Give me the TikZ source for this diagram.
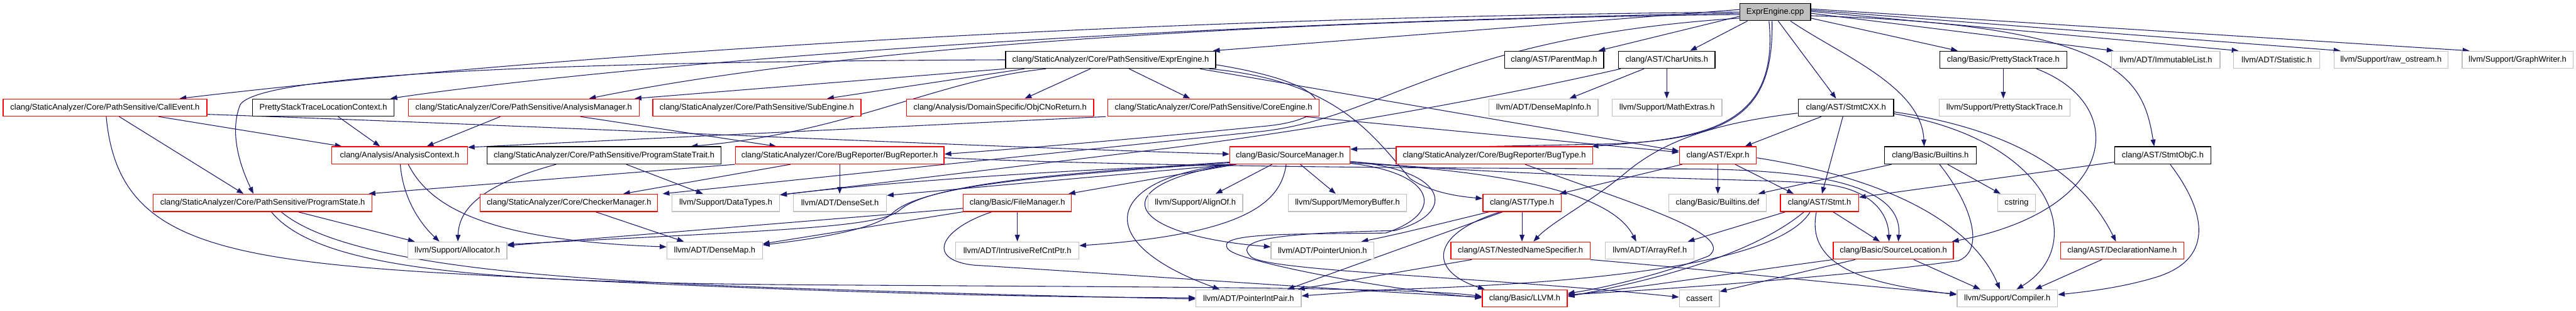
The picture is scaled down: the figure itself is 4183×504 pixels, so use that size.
\documentclass[tikz,border=0pt]{standalone}
\usepackage{fontspec}
\setmainfont{Liberation Sans}
\usetikzlibrary{arrows.meta,backgrounds}
\definecolor{edgec}{HTML}{191970}
\definecolor{boxred}{HTML}{FF0000}
\definecolor{boxgray}{HTML}{BFBFBF}
\definecolor{rootgray}{HTML}{BFBFBF}
\newcommand\nodefont{\fontsize{13.2}{15}\selectfont}
\tikzset{
 conn/.style={draw=edgec, line width=1.1pt, -{Triangle[length=11pt,width=8pt]}},
 nbox/.style={rectangle, line width=1.3pt, minimum height=28pt, inner sep=0pt, font=\nodefont, text=black, fill=white},
 blk/.style={nbox, draw=black},
 redb/.style={nbox, draw=boxred},
 gry/.style={nbox, draw=boxgray},
 rootbox/.style={nbox, draw=black, fill=rootgray},
}
\begin{document}
\begin{tikzpicture}[x=1pt,y=-1pt]
\useasboundingbox (0,0) rectangle (4183,504);
% row 0
\node[rootbox,minimum width=115pt] (cpp) at (2882.5,19.5) {ExprEngine.cpp};
% row 1
\node[blk,minimum width=341pt] (eeh) at (1803.5,97) {clang/StaticAnalyzer/Core/PathSensitive/ExprEngine.h};
\node[blk,minimum width=161pt] (parentmap) at (2523.5,97) {clang/AST/ParentMap.h};
\node[blk,minimum width=157pt] (charunits) at (2706.5,97) {clang/AST/CharUnits.h};
\node[blk,minimum width=206pt] (cpst) at (3253,97) {clang/Basic/PrettyStackTrace.h};
\node[gry,minimum width=176pt] (immlist) at (3517,97) {llvm/ADT/ImmutableList.h};
\node[gry,minimum width=140pt] (statistic) at (3697,97) {llvm/ADT/Statistic.h};
\node[gry,minimum width=185pt] (rawos) at (3882.5,97) {llvm/Support/raw\_ostream.h};
\node[gry,minimum width=180pt] (graphw) at (4088,97) {llvm/Support/GraphWriter.h};
% row 2
\node[redb,minimum width=331pt] (callevent) at (170.5,174.5) {clang/StaticAnalyzer/Core/PathSensitive/CallEvent.h};
\node[blk,minimum width=230pt] (pstlc) at (525,174.5) {PrettyStackTraceLocationContext.h};
\node[redb,minimum width=375pt] (anamgr) at (850.5,174.5) {clang/StaticAnalyzer/Core/PathSensitive/AnalysisManager.h};
\node[redb,minimum width=338pt] (subeng) at (1229,174.5) {clang/StaticAnalyzer/Core/PathSensitive/SubEngine.h};
\node[redb,minimum width=304pt] (objcnr) at (1624,174.5) {clang/Analysis/DomainSpecific/ObjCNoReturn.h};
\node[redb,minimum width=343pt] (coreeng) at (1970.5,174.5) {clang/StaticAnalyzer/Core/PathSensitive/CoreEngine.h};
\node[gry,minimum width=177pt] (dmapinfo) at (2506.5,174.5) {llvm/ADT/DenseMapInfo.h};
\node[gry,minimum width=178pt] (mathext) at (2707,174.5) {llvm/Support/MathExtras.h};
\node[blk,minimum width=155pt] (stmtcxx) at (2997.5,174.5) {clang/AST/StmtCXX.h};
\node[gry,minimum width=212pt] (lpst) at (3255,174.5) {llvm/Support/PrettyStackTrace.h};
% row 3
\node[redb,minimum width=220pt] (actx) at (649,252) {clang/Analysis/AnalysisContext.h};
\node[blk,minimum width=380pt] (pstrait) at (981,252) {clang/StaticAnalyzer/Core/PathSensitive/ProgramStateTrait.h};
\node[redb,minimum width=339pt] (bugrep) at (1363.5,252) {clang/StaticAnalyzer/Core/BugReporter/BugReporter.h};
\node[redb,minimum width=195pt] (srcmgr) at (2094.5,252) {clang/Basic/SourceManager.h};
\node[redb,minimum width=319pt] (bugtype) at (2426.5,252) {clang/StaticAnalyzer/Core/BugReporter/BugType.h};
\node[redb,minimum width=125pt] (expr) at (2789.5,252) {clang/AST/Expr.h};
\node[blk,minimum width=149pt] (builtins) at (3134.5,252) {clang/Basic/Builtins.h};
\node[blk,minimum width=156pt] (stmtobjc) at (3512,252) {clang/AST/StmtObjC.h};
% row 4
\node[redb,minimum width=355pt] (pstate) at (426.5,329) {clang/StaticAnalyzer/Core/PathSensitive/ProgramState.h};
\node[redb,minimum width=288pt] (chkmgr) at (924,329) {clang/StaticAnalyzer/Core/CheckerManager.h};
\node[gry,minimum width=175pt] (datatypes) at (1178.5,329) {llvm/Support/DataTypes.h};
\node[gry,minimum width=151pt] (denseset) at (1364,329) {llvm/ADT/DenseSet.h};
\node[redb,minimum width=176pt] (filemgr) at (1652,329) {clang/Basic/FileManager.h};
\node[gry,minimum width=154pt] (alignof) at (1941,329) {llvm/Support/AlignOf.h};
\node[gry,minimum width=192pt] (membuf) at (2188,329) {llvm/Support/MemoryBuffer.h};
\node[redb,minimum width=127pt] (type) at (2471.5,329) {clang/AST/Type.h};
\node[gry,minimum width=158pt] (bdef) at (2789,329) {clang/Basic/Builtins.def};
\node[redb,minimum width=127pt] (stmt) at (2954.5,329) {clang/AST/Stmt.h};
\node[gry,minimum width=61pt] (cstring) at (3274.5,329) {cstring};
% row 5
\node[gry,minimum width=161pt] (alloc) at (742.5,406.5) {llvm/Support/Allocator.h};
\node[gry,minimum width=155pt] (densemap) at (1160.5,406.5) {llvm/ADT/DenseMap.h};
\node[gry,minimum width=200pt] (irc) at (1652,406.5) {llvm/ADT/IntrusiveRefCntPtr.h};
\node[gry,minimum width=167pt] (punion) at (2147.5,406.5) {llvm/ADT/PointerUnion.h};
\node[redb,minimum width=226pt] (nns) at (2469,406.5) {clang/AST/NestedNameSpecifier.h};
\node[gry,minimum width=144pt] (arrayref) at (2679,406.5) {llvm/ADT/ArrayRef.h};
\node[redb,minimum width=195pt] (srcloc) at (3074.5,406.5) {clang/Basic/SourceLocation.h};
\node[redb,minimum width=200pt] (declname) at (3446,406.5) {clang/AST/DeclarationName.h};
% row 6
\node[gry,minimum width=171pt] (pip) at (2027.5,484) {llvm/ADT/PointerIntPair.h};
\node[redb,minimum width=138pt] (llvmh) at (2476,484) {clang/Basic/LLVM.h};
\node[gry,minimum width=65pt] (cassert) at (2759.5,484) {cassert};
\node[gry,minimum width=163pt] (compiler) at (3259.5,484) {llvm/Support/Compiler.h};

\begin{pgfonlayer}{background}
% from ExprEngine.cpp
\draw[conn] ([yshift=4pt]cpp.west) -- ([xshift=-5pt]eeh.north east);
\draw[conn] (cpp.west) .. controls (1700,30) and (800,100) .. ([xshift=121pt]callevent.north);
\draw[conn] ([yshift=-2pt]cpp.west) .. controls (1700,40) and (900,120) .. ([xshift=109pt]pstlc.north);
\draw[conn] ([yshift=-4pt]cpp.west) .. controls (1900,35) and (1300,90) .. ([xshift=106pt]anamgr.north);
\draw[conn] ([yshift=-10pt]cpp.west) .. controls (2350,60) and (2250,190) .. (2050,213) -- ([xshift=152pt]chkmgr.north);
\draw[conn] ([yshift=-7pt]cpp.west) -- ([xshift=72pt]parentmap.north);
\draw[conn] ([xshift=-45pt]cpp.south) -- ([xshift=38pt]charunits.north);
\draw[conn] ([xshift=5pt]cpp.south) -- ([xshift=-16pt]stmtcxx.north);
\draw[conn] ([xshift=25pt]cpp.south) .. controls (2990,90) and (3120,140) .. ([xshift=-10pt]builtins.north);
\draw[conn] ([yshift=-10pt]cpp.east) -- ([xshift=-74pt]cpst.north);
\draw[conn] ([yshift=-6pt]cpp.east) .. controls (3450,40) and (3480,130) .. ([xshift=-14pt]stmtobjc.north);
\draw[conn] ([yshift=-2pt]cpp.east) -- ([xshift=-85pt]immlist.north);
\draw[conn] ([yshift=1pt]cpp.east) -- ([xshift=-62pt]statistic.north);
\draw[conn] ([yshift=3pt]cpp.east) -- ([xshift=-82pt]rawos.north);
\draw[conn] ([yshift=5pt]cpp.east) -- ([xshift=-78pt]graphw.north);
\draw[conn] ([xshift=-5pt]cpp.south) .. controls (2880,180) and (2820,230) .. (2590,234) -- ([yshift=10pt]srcmgr.east);
\draw[conn] ([xshift=-10pt]cpp.south) .. controls (2890,210) and (2760,225) .. ([xshift=158pt]bugtype.north);
% ExprEngine.h
\draw[conn] (eeh.south west) -- ([xshift=180pt]anamgr.north);
\draw[conn] ([xshift=-140pt]eeh.south) -- ([xshift=114pt]subeng.north);
\draw[conn] (eeh.west) .. controls (900,100) and (420,120) .. (390,170) .. controls (370,220) and (395,280) .. ([xshift=-15pt]pstate.north);
\draw[conn] ([xshift=-105pt]eeh.south) .. controls (1520,130) and (1380,215) .. ([xshift=141pt]pstrait.north);
\draw[conn] ([xshift=-33pt]eeh.south) -- ([xshift=40pt]objcnr.north);
\draw[conn] ([xshift=30pt]eeh.south) -- ([xshift=-38pt]coreeng.north);
\draw[conn] ([yshift=-8pt]eeh.east) .. controls (2190,140) and (2170,195) .. (2050,205) .. controls (1900,220) and (1700,238) .. ([yshift=2pt]bugrep.east);
\draw[conn] ([xshift=145pt]eeh.south) -- ([yshift=7pt]expr.west);
\draw[conn] ([xshift=160pt]eeh.south) .. controls (2170,130) and (2230,220) .. (2290,290) .. controls (2320,310) and (2360,318) .. ([yshift=7pt]type.west);
% CoreEngine
\draw[conn] ([xshift=-175pt]coreeng.south) -- ([yshift=13pt]actx.east);
\draw[conn] ([xshift=148pt]coreeng.south) -- ([yshift=5pt]expr.west);
% CallEvent
\draw[conn] ([xshift=87pt]callevent.south) -- ([xshift=-94pt]actx.north);
\draw[conn] ([xshift=23pt]callevent.south) -- ([xshift=-31pt]pstate.north);
\draw[conn] ([yshift=-11pt]callevent.east) .. controls (900,205) and (1500,235) .. ([yshift=2pt]srcmgr.west);
\draw[conn] ([xshift=2pt]callevent.south) .. controls (190,380) and (330,420) .. (720,443) .. controls (1200,470) and (1600,482) .. ([yshift=1pt]pip.west);
% PSTLC, AnalysisManager
\draw[conn] ([xshift=24pt]pstlc.south) -- ([xshift=-32pt]actx.north);
\draw[conn] ([xshift=-38pt]anamgr.south) -- ([xshift=44pt]actx.north);
\draw[conn] ([xshift=92pt]anamgr.south) -- ([xshift=-103pt]bugrep.north);
% AnalysisContext
\draw[conn] ([xshift=1pt]actx.south) .. controls (655,330) and (690,370) .. ([xshift=-29pt]alloc.north);
\draw[conn] ([xshift=14pt]actx.south) .. controls (700,340) and (800,390) .. ([yshift=6pt]densemap.west);
% ProgramState
\draw[conn] ([xshift=57pt]pstate.south) -- ([xshift=-69pt]alloc.north);
\draw[conn] ([xshift=14pt]pstate.south) .. controls (520,440) and (800,458) .. (1300,462) .. controls (1900,466) and (2300,466) .. ([yshift=3pt]llvmh.west);
\draw[conn] ([xshift=30pt]pstate.south) .. controls (560,430) and (900,455) .. (1300,468) .. controls (1600,478) and (1800,482) .. ([yshift=-1pt]pip.west);
% ProgramStateTrait
\draw[conn] ([xshift=-78pt]pstrait.south) .. controls (780,300) and (745,340) .. ([xshift=1pt]alloc.north);
\draw[conn] ([xshift=36pt]pstrait.south) -- ([xshift=-37pt]datatypes.north);
% BugReporter
\draw[conn] (bugrep.south west) -- ([xshift=172pt]pstate.north);
\draw[conn] ([xshift=-80pt]bugrep.south) -- ([xshift=88pt]chkmgr.north);
\draw[conn] (bugrep.south) -- (bugrep.south |- denseset.north);
\draw[conn] ([yshift=-4pt]bugrep.east) .. controls (1800,268) and (2200,273) .. (2750,274) .. controls (2950,276) and (3090,300) .. ([xshift=8pt]srcloc.north);
% SourceManager
\draw[conn] ([xshift=-87pt]srcmgr.south) -- ([xshift=83pt]filemgr.north);
\draw[conn] ([xshift=-29pt]srcmgr.south) -- ([xshift=33pt]alignof.north);
\draw[conn] ([xshift=17pt]srcmgr.south) -- ([xshift=-19pt]membuf.north);
\draw[conn] ([xshift=-6pt]srcmgr.south) .. controls (2080,330) and (2020,380) .. ([yshift=8pt]irc.east);
\draw[conn] ([xshift=-90pt]srcmgr.south) .. controls (1800,285) and (1760,390) .. ([xshift=-47pt]pip.north);
\draw[conn] ([xshift=-94pt]srcmgr.south) .. controls (1790,300) and (1820,380) .. ([yshift=6pt]punion.west);
\draw[conn] ([yshift=-12pt]srcmgr.east) .. controls (2480,280) and (2620,320) .. ([xshift=-22pt]arrayref.north);
\draw[conn] ([yshift=-13pt]srcmgr.east) .. controls (2330,280) and (2350,345) .. (2250,378) .. controls (2080,380) and (1970,378) .. (1995,405) .. controls (2015,425) and (2250,470) .. ([yshift=1pt]llvmh.west);
\draw[conn] ([yshift=-10pt]srcmgr.east) .. controls (2350,275) and (2370,345) .. (2265,374) .. controls (2100,378) and (2000,385) .. (2030,415) .. controls (2045,440) and (2400,448) .. ([yshift=2pt]cassert.west);
\draw[conn] ([yshift=-12pt]srcmgr.west) .. controls (1700,285) and (1500,300) .. (1450,345) .. controls (1420,375) and (1300,390) .. ([yshift=9pt]densemap.east);
\draw[conn] ([yshift=-11pt]srcmgr.west) .. controls (1700,282) and (1510,300) .. (1462,340) .. controls (1430,368) and (1300,372) .. ([yshift=10pt]alloc.east);
\draw[conn] ([xshift=3pt]srcmgr.south west) .. controls (1700,275) and (1400,300) .. ([yshift=13pt]datatypes.east);
\draw[conn] ([xshift=6pt]srcmgr.south west) -- ([yshift=12pt]denseset.east);
\draw[conn] ([yshift=-10pt]srcmgr.east) .. controls (2500,290) and (2900,290) .. (2950,298) .. controls (3030,302) and (3066,340) .. ([xshift=-7pt]srcloc.north);
% FileManager
\draw[conn] (filemgr.south) -- (filemgr.south |- irc.north);
\draw[conn] ([yshift=-9pt]filemgr.west) -- ([yshift=8pt]alloc.east);
\draw[conn] (filemgr.south west) -- ([yshift=11pt]densemap.east);
\draw[conn] ([xshift=-41pt]filemgr.south) .. controls (1530,370) and (1500,420) .. (1580,430) .. controls (1900,450) and (2200,472) .. ([yshift=2pt]llvmh.west);
% CheckerManager
\draw[conn] ([xshift=43pt]chkmgr.south) -- ([xshift=-50pt]densemap.north);
% Type.h
\draw[conn] (type.south) -- (type.south |- nns.north);
\draw[conn] ([xshift=-53pt]type.south) .. controls (2350,360) and (2280,378) .. ([xshift=-21pt]punion.north east);
\draw[conn] ([xshift=-35pt]type.south) .. controls (2320,380) and (2320,440) .. ([xshift=-65pt]llvmh.north);
\draw[conn] ([xshift=-31pt]type.south) -- ([xshift=63pt]pip.north);
% NestedNameSpecifier
\draw[conn] ([xshift=-79pt]nns.south) -- ([xshift=80pt]pip.north);
\draw[conn] (nns.south east) .. controls (2800,440) and (3000,462) .. ([yshift=7pt]compiler.west);
% Expr.h
\draw[conn] ([xshift=-58pt]expr.south) -- ([xshift=61pt]type.north);
\draw[conn] (expr.south) -- (expr.south |- bdef.north);
\draw[conn] ([xshift=28pt]expr.south) -- ([xshift=-42pt]stmt.north);
\draw[conn] ([yshift=-4pt]expr.east) .. controls (3100,295) and (3210,380) .. ([xshift=-12pt]compiler.north);
% StmtCXX
\draw[conn] ([xshift=-40pt]stmtcxx.south) -- ([xshift=44pt]expr.north);
\draw[conn] ([xshift=-5pt]stmtcxx.south) -- ([xshift=4pt]stmt.north);
\draw[conn] ([yshift=-9pt]stmtcxx.west) .. controls (2780,200) and (2700,230) .. (2640,280) .. controls (2580,330) and (2520,360) .. ([xshift=21pt]nns.north);
\draw[conn] ([yshift=-7pt]stmtcxx.east) .. controls (3300,215) and (3390,300) .. ([xshift=-10pt]declname.north);
\draw[conn] ([yshift=-10pt]stmtcxx.east) .. controls (3340,230) and (3390,400) .. ([xshift=15pt]compiler.north);
% Stmt.h
\draw[conn] ([xshift=22pt]stmt.south) -- ([xshift=-22pt]srcloc.north);
\draw[conn] ([xshift=-5pt]stmt.south) .. controls (2930,440) and (3050,462) .. ([yshift=6pt]compiler.west);
\draw[conn] ([xshift=-55pt]stmt.south) -- ([xshift=-11pt]arrayref.north east);
\draw[conn] ([xshift=-25pt]stmt.south) .. controls (2850,410) and (2700,452) .. ([yshift=3pt]llvmh.east);
\draw[conn] ([xshift=-15pt]stmt.south) .. controls (2880,440) and (2500,462) .. (2250,470) -- ([yshift=4pt]pip.east);
% SourceLocation
\draw[conn] ([xshift=33pt]srcloc.south) -- ([xshift=-44pt]compiler.north);
\draw[conn] ([xshift=-62pt]srcloc.south) -- ([yshift=11pt]cassert.east);
\draw[conn] (srcloc.south west) .. controls (2800,445) and (2650,468) .. ([yshift=5pt]llvmh.east);
% Builtins.h
\draw[conn] ([xshift=-63pt]builtins.south) -- ([xshift=66pt]bdef.north);
\draw[conn] ([xshift=28pt]builtins.south) -- ([xshift=-26pt]cstring.north);
\draw[conn] ([xshift=15pt]builtins.south) .. controls (3200,330) and (3225,405) .. (3180,423) .. controls (3000,448) and (2700,470) .. ([yshift=6pt]llvmh.east);
% PrettyStackTrace
\draw[conn] (cpst.south) -- (cpst.south |- lpst.north);
\draw[conn] ([xshift=54pt]cpst.south) .. controls (3460,170) and (3440,340) .. ([xshift=-3pt]srcloc.north east);
% StmtObjC
\draw[conn] ([yshift=-11pt]stmtobjc.west) -- ([yshift=9pt]stmt.east);
\draw[conn] ([xshift=12pt]stmtobjc.south) .. controls (3580,340) and (3600,420) .. (3500,450) .. controls (3450,465) and (3400,472) .. ([yshift=6pt]compiler.east);
% DeclarationName
\draw[conn] ([xshift=-33pt]declname.south) -- ([xshift=45pt]compiler.north);
% BugType
\draw[conn] ([xshift=50pt]bugtype.south) .. controls (2650,330) and (2820,380) .. (2775,415) .. controls (2700,445) and (2600,468) .. ([yshift=8pt]llvmh.east);
% CharUnits
\draw[conn] ([xshift=-37pt]charunits.south) -- ([xshift=42pt]dmapinfo.north);
\draw[conn] (charunits.south) -- (charunits.south |- mathext.north);
\draw[conn] ([xshift=-75pt]charunits.south) .. controls (2420,160) and (2150,208) .. (1900,240) -- ([yshift=-2pt]datatypes.north east);
\end{pgfonlayer}
\end{tikzpicture}
\end{document}
